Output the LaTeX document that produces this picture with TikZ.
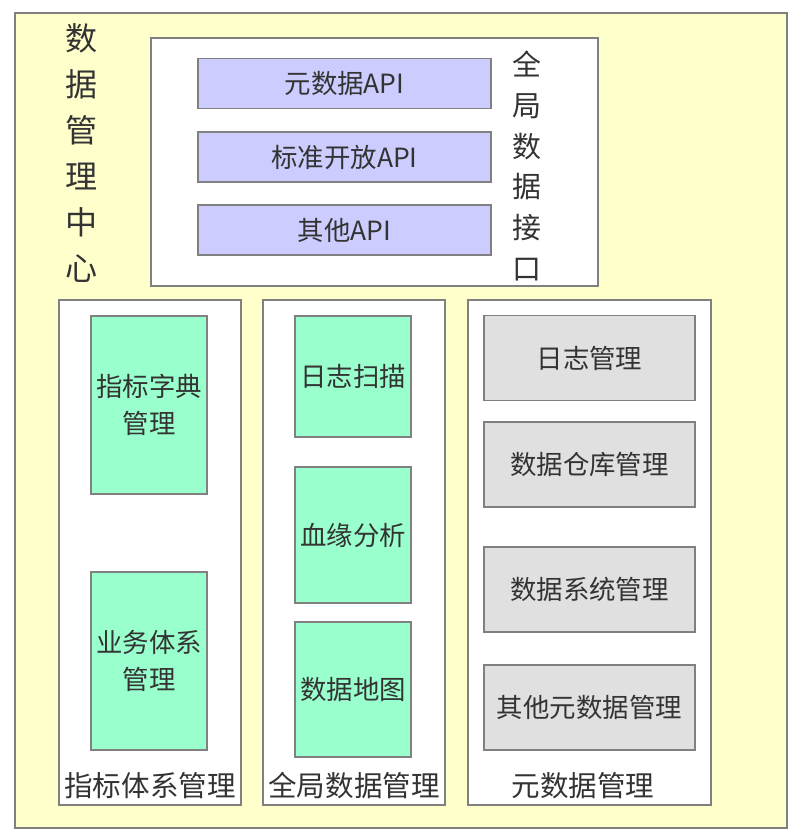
\documentclass[tikz,border=0pt]{standalone}
\usepackage{fontspec}
\setmainfont{Noto Sans CJK SC}
\definecolor{bgyellow}{HTML}{FFFFCC}
\definecolor{apiblue}{HTML}{CCCCFF}
\definecolor{mgreen}{HTML}{99FFCC}
\definecolor{mgray}{HTML}{E0E0E0}
\definecolor{linegray}{HTML}{808080}
\definecolor{textgray}{HTML}{333333}
\tikzset{
  px/.style 2 args={minimum width=#1*0.025cm, minimum height=#2*0.025cm},
  frame/.style={draw=linegray, line width=1pt, inner sep=0pt, text=textgray},
  panel/.style={frame, fill=white},
  apibox/.style={frame, fill=apiblue, px={293}{50}, font=\fontsize{18.8}{24}\selectfont},
  greenbox/.style={frame, fill=mgreen, align=center, font=\fontsize{18.8}{26.3}\selectfont},
  graybox/.style={frame, fill=mgray, px={211}{85}, font=\fontsize{18.8}{24}\selectfont},
  vlabel/.style={text=textgray, align=center, inner sep=0pt},
  plabel/.style={text=textgray, inner sep=0pt, font=\fontsize{20.3}{24}\selectfont},
}
\begin{document}
\begin{tikzpicture}[x=0.025cm, y=-0.025cm]
  \useasboundingbox (0,0) rectangle (800,837);

  % Rahmen luar
  \node[frame, fill=bgyellow, px={772}{815}] (center) at (401,420.5) {};
  \node[vlabel, font=\fontsize{22.8}{32.7}\selectfont] (centerlabel) at (82,153)
    {数\\据\\管\\理\\中\\心};

  % Antarmuka data global
  \node[panel, px={447}{248}] (apipanel) at (374.5,162) {};
  \foreach \y/\t [count=\i] in {83.5/元数据API, 157/标准开放API, 230/其他API} {
    \node[apibox] (api\i) at (344.5,\y) {\t};
  }
  \node[vlabel, font=\fontsize{20.6}{29}\selectfont] (apilabel) at (527,166)
    {全\\局\\数\\据\\接\\口};

  % Tiga panel bawah
  \node[panel, px={182}{505}] (indpanel) at (150,552.5) {};
  \node[panel, px={182}{505}] (glbpanel) at (354,552.5) {};
  \node[panel, px={243}{505}] (metapanel) at (589.5,552.5) {};

  % Sistem indikator
  \node[greenbox, px={116}{178}] (dict) at (149,405) {指标字典\\管理};
  \node[greenbox, px={116}{178}] (biz) at (149,661) {业务体系\\管理};
  \node[plabel] (indlabel) at (150,786) {指标体系管理};

  % Data global
  \node[greenbox, px={116}{121}] (logscan) at (353,376.5) {日志扫描};
  \node[greenbox, px={116}{136}] (lineage) at (353,535) {血缘分析};
  \node[greenbox, px={116}{135}] (datamap) at (353,689.5) {数据地图};
  \node[plabel] (glblabel) at (354,786) {全局数据管理};

  % Metadata
  \foreach \y/\t [count=\i] in {358/日志管理, 464.5/数据仓库管理, 589.5/数据系统管理, 707.5/其他元数据管理} {
    \node[graybox] (meta\i) at (589.5,\y) {\t};
  }
  \node[plabel] (metalabel) at (583,786) {元数据管理};
\end{tikzpicture}
\end{document}
